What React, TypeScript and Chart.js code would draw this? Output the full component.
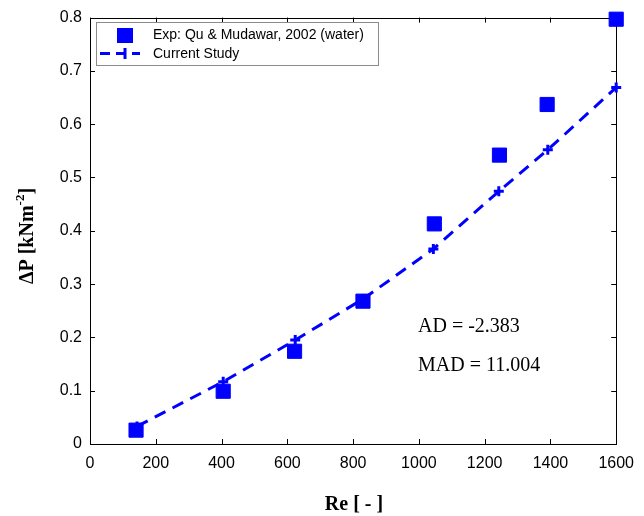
import React, { useEffect, useRef } from "react";
import { Chart, registerables } from "chart.js";

Chart.register(...registerables);

const reExp = [140, 405, 622, 830, 1047, 1245, 1390, 1600];
const dpExp = [0.026, 0.099, 0.174, 0.268, 0.413, 0.542, 0.637, 0.797];
const reSim = [143, 405, 624, 830, 1044, 1243, 1392, 1600];
const dpSim = [0.033, 0.117, 0.195, 0.272, 0.366, 0.474, 0.552, 0.669];
const xTicks = [0, 200, 400, 600, 800, 1000, 1200, 1400, 1600];
const yTicks = [0, 0.1, 0.2, 0.3, 0.4, 0.5, 0.6, 0.7, 0.8];
const expLabel = "Exp: Qu & Mudawar, 2002 (water)";
const simLabel = "Current Study";
const statLines = ["AD = -2.383", "MAD = 11.004"];

const BLUE = "#0000ff";
const SERIF = "'Liberation Serif', 'Times New Roman', serif";
const SANS = "'Liberation Sans', Arial, sans-serif";

const framePlugin = {
  id: "frame",
  beforeDatasetsDraw(chart: any) {
    const { ctx, chartArea: a, scales } = chart;
    ctx.save();
    ctx.strokeStyle = "#000";
    ctx.lineWidth = 1;
    ctx.strokeRect(Math.round(a.left) + 0.5, Math.round(a.top) + 0.5, Math.round(a.right - a.left), Math.round(a.bottom - a.top));
    ctx.beginPath();
    const L = 5;
    xTicks.forEach((v) => {
      const x = Math.round(scales.x.getPixelForValue(v)) + 0.5;
      ctx.moveTo(x, a.bottom);
      ctx.lineTo(x, a.bottom - L);
      ctx.moveTo(x, a.top);
      ctx.lineTo(x, a.top + L);
    });
    yTicks.forEach((v) => {
      const y = Math.round(scales.y.getPixelForValue(v)) + 0.5;
      ctx.moveTo(a.left, y);
      ctx.lineTo(a.left + L, y);
      ctx.moveTo(a.right, y);
      ctx.lineTo(a.right - L, y);
    });
    ctx.stroke();
    ctx.restore();
  },
  afterDraw(chart: any) {
    const { ctx } = chart;
    ctx.save();
    // legend box
    const lx = 96, ly = 22, lw = 282, lh = 43;
    ctx.fillStyle = "#fff";
    ctx.fillRect(lx, ly, lw, lh);
    ctx.strokeStyle = "#8c8c8c";
    ctx.lineWidth = 1;
    ctx.strokeRect(lx + 0.5, ly + 0.5, lw, lh);
    ctx.fillStyle = BLUE;
    ctx.fillRect(117, 28, 16, 15);
    ctx.strokeStyle = BLUE;
    ctx.lineWidth = 3;
    ctx.setLineDash([10, 6]);
    ctx.beginPath();
    ctx.moveTo(100, 53.5);
    ctx.lineTo(140, 53.5);
    ctx.stroke();
    ctx.setLineDash([]);
    ctx.beginPath();
    ctx.moveTo(125, 48);
    ctx.lineTo(125, 59);
    ctx.stroke();
    ctx.fillStyle = "#000";
    ctx.font = `14px ${SANS}`;
    ctx.textBaseline = "middle";
    ctx.textAlign = "left";
    ctx.fillText(expLabel, 153, 35);
    ctx.fillText(simLabel, 153, 54);
    // stats text
    ctx.font = `20px ${SERIF}`;
    ctx.fillText(statLines[0], 418, 327);
    ctx.fillText(statLines[1], 418, 366);
    // x title
    ctx.font = `bold 20px ${SERIF}`;
    ctx.textAlign = "center";
    ctx.fillText("Re [ - ]", 354, 505);
    // y title with superscript
    ctx.translate(28, 236);
    ctx.rotate(-Math.PI / 2);
    const main = "\u0394P [kNm";
    const sup = "-2";
    const end = "]";
    ctx.font = `bold 20px ${SERIF}`;
    const w1 = ctx.measureText(main).width;
    const w3 = ctx.measureText(end).width;
    ctx.font = `bold 13px ${SERIF}`;
    const w2 = ctx.measureText(sup).width;
    const total = w1 + w2 + w3;
    let x = -total / 2;
    ctx.textAlign = "left";
    ctx.font = `bold 20px ${SERIF}`;
    ctx.fillText(main, x, 0);
    x += w1;
    ctx.font = `bold 13px ${SERIF}`;
    ctx.fillText(sup, x, -7);
    x += w2;
    ctx.font = `bold 20px ${SERIF}`;
    ctx.fillText(end, x, 0);
    ctx.restore();
  },
};

export default function App() {
  const ref = useRef<HTMLCanvasElement>(null);
  useEffect(() => {
    const canvas = ref.current!;
    const chart = new Chart(canvas, {
      type: "scatter",
      data: {
        datasets: [
          {
            label: simLabel,
            data: reSim.map((x, i) => ({ x, y: dpSim[i] })),
            showLine: true,
            borderColor: BLUE,
            backgroundColor: BLUE,
            borderWidth: 3,
            borderDash: [12, 8],
            pointStyle: "cross",
            pointRadius: 5,
            pointBorderWidth: 3,
            pointBorderColor: BLUE,
            clip: false,
            order: 2,
          } as any,
          {
            label: expLabel,
            data: reExp.map((x, i) => ({ x, y: dpExp[i] })),
            showLine: false,
            pointStyle: "rect",
            pointRadius: 10,
            pointBorderWidth: 1,
            backgroundColor: BLUE,
            borderColor: BLUE,
            clip: false,
            order: 1,
          } as any,
        ],
      },
      options: {
        animation: false,
        responsive: false,
        layout: { padding: { left: 0, right: 27, top: 16, bottom: 0 } },
        plugins: { legend: { display: false }, tooltip: { enabled: false } },
        scales: {
          x: {
            type: "linear",
            min: 0,
            max: 1600,
            afterBuildTicks: (s: any) => {
              s.ticks = xTicks.map((v) => ({ value: v }));
            },
            afterFit: (s: any) => {
              s.height = 72;
            },
            grid: { display: false, drawTicks: false },
            border: { display: false },
            ticks: {
              color: "#000",
              padding: 10,
              font: { family: SANS, size: 16 },
              maxRotation: 0,
              callback: (v: any) => String(v),
            },
          },
          y: {
            type: "linear",
            min: 0,
            max: 0.8,
            afterBuildTicks: (s: any) => {
              s.ticks = yTicks.map((v) => ({ value: v }));
            },
            afterFit: (s: any) => {
              s.width = 90;
            },
            grid: { display: false, drawTicks: false },
            border: { display: false },
            ticks: {
              color: "#000",
              padding: 8,
              font: { family: SANS, size: 16 },
              callback: (v: any) => (v === 0 ? "0" : Number(v).toFixed(1)),
            },
          },
        },
      },
      plugins: [framePlugin],
    });
    return () => chart.destroy();
  }, []);
  return (
    <div style={{ position: "fixed", left: 0, top: 0, width: 644, height: 516, background: "#fff" }}>
      <canvas ref={ref} width={644} height={516} style={{ width: 644, height: 516 }} />
    </div>
  );
}
